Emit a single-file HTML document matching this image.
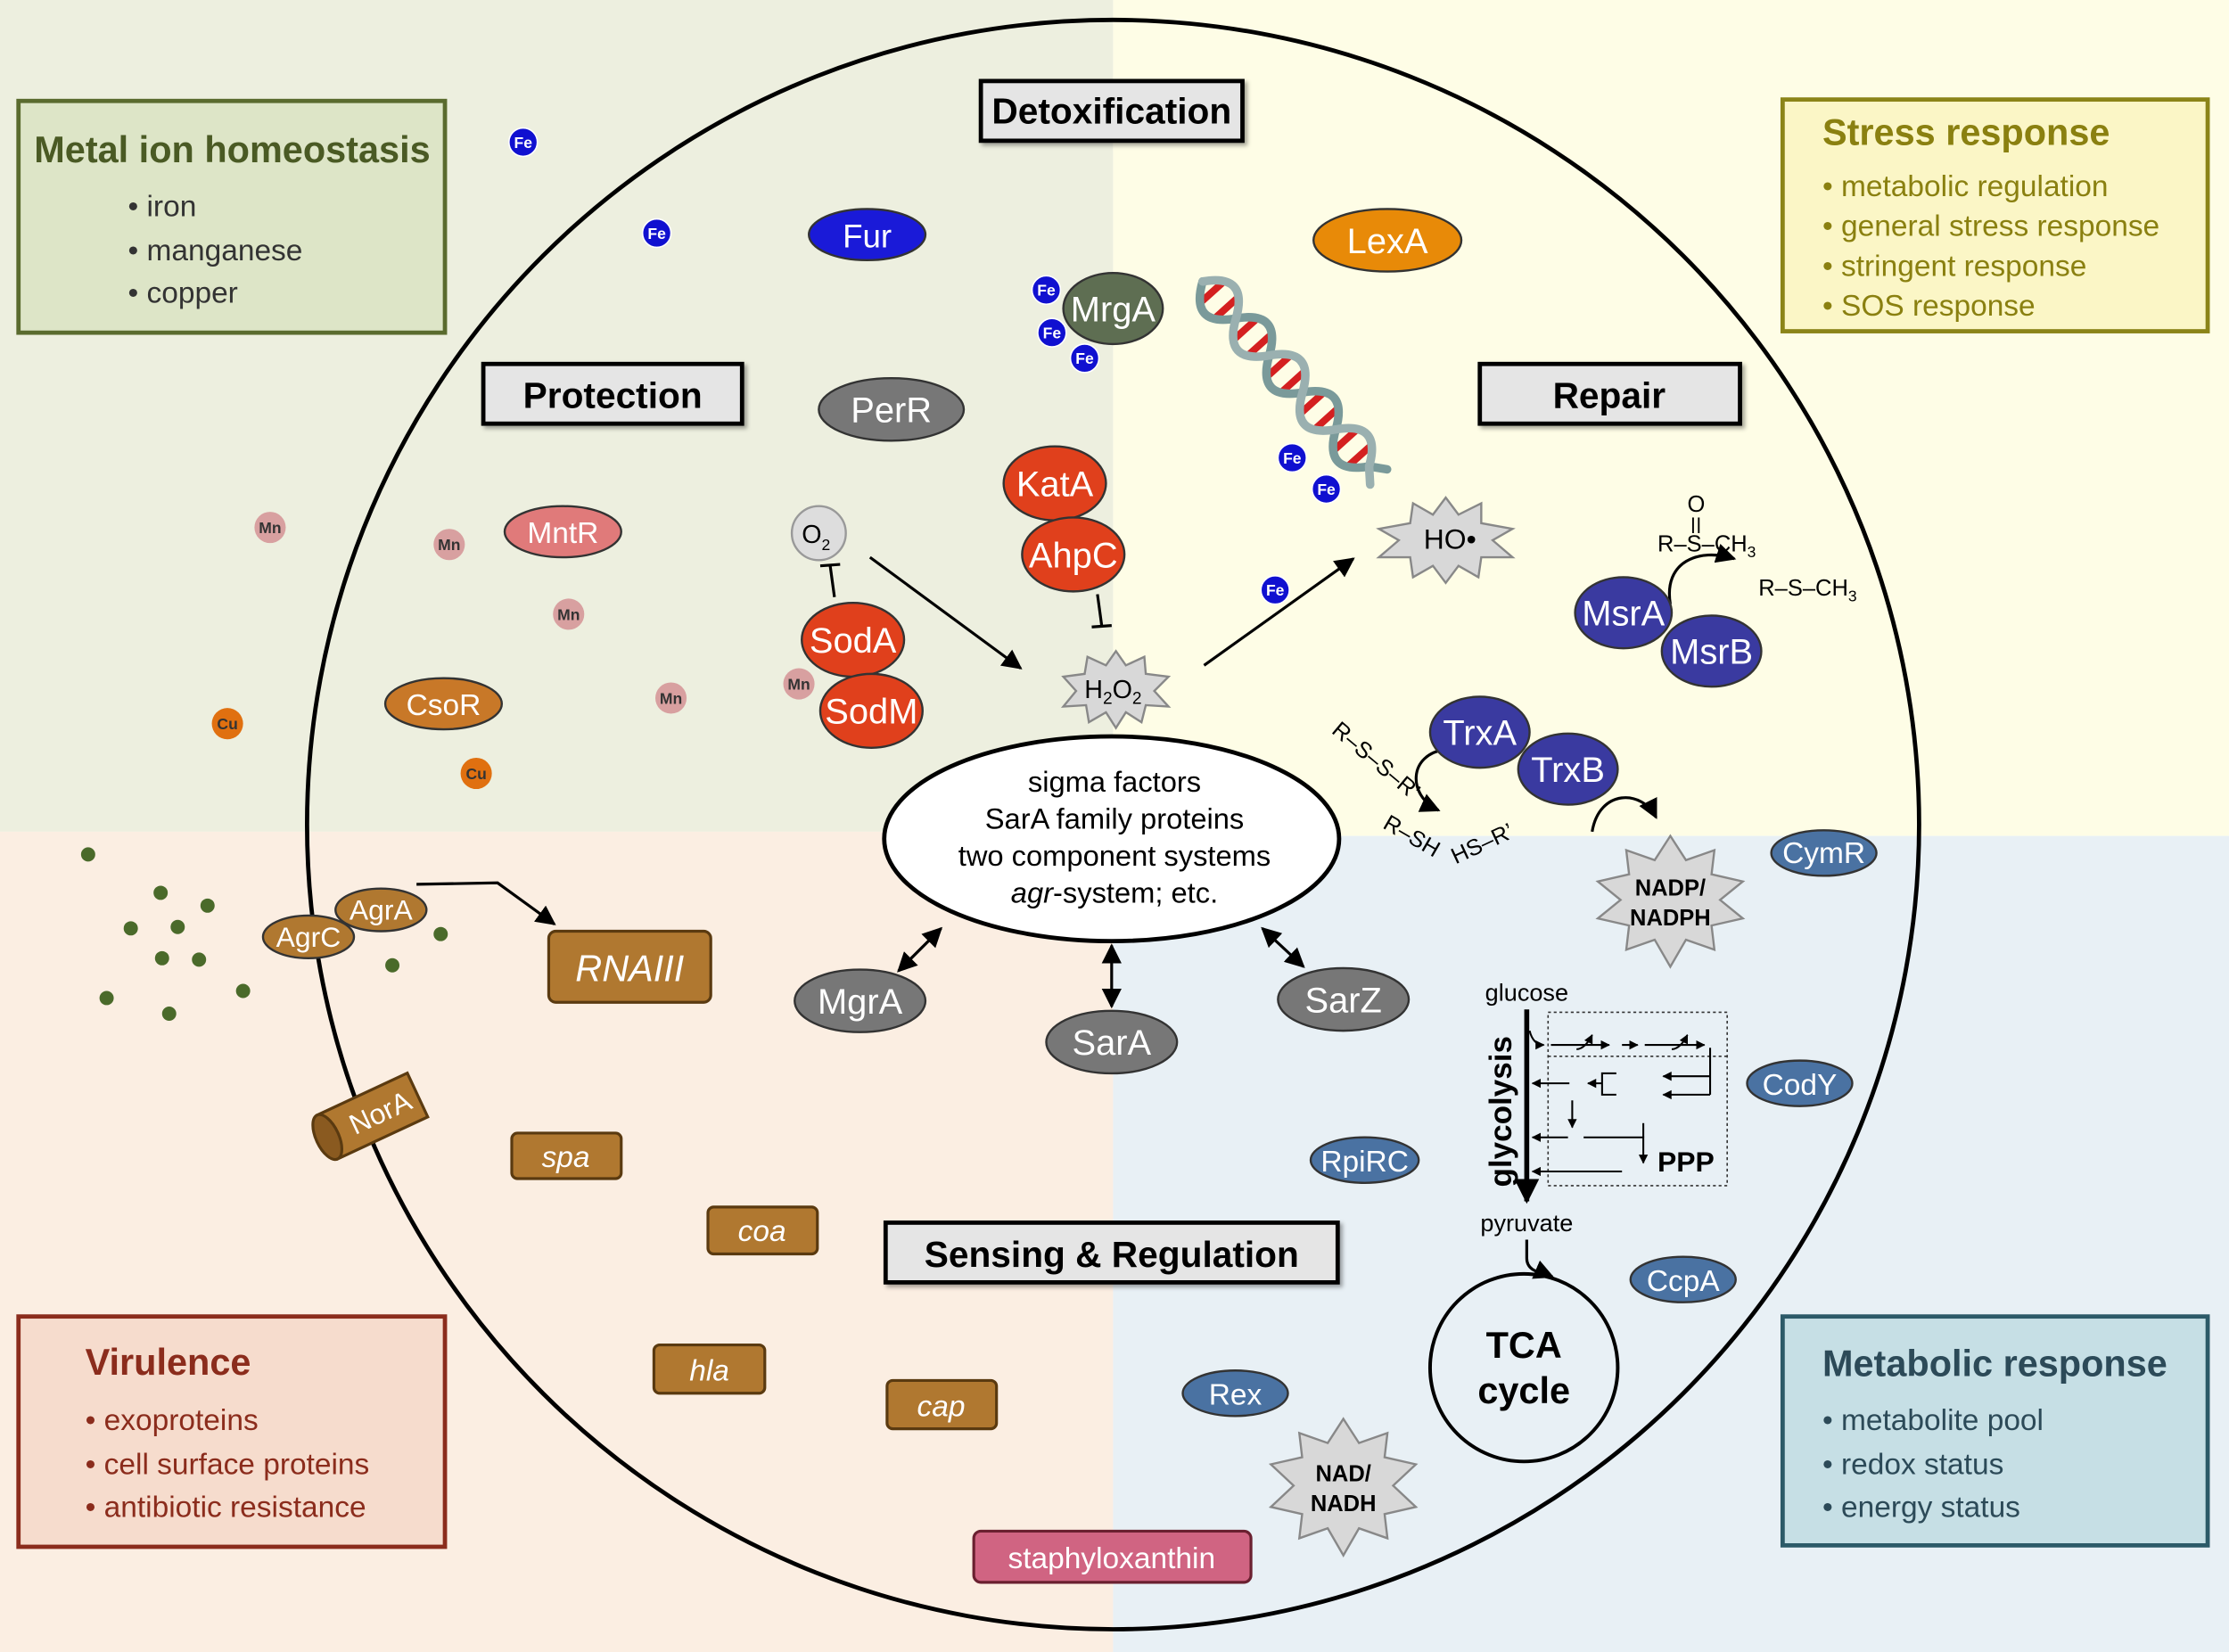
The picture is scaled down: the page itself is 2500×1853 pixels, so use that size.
<!DOCTYPE html>
<html><head><meta charset="utf-8"><style>html,body{margin:0;padding:0;background:#fff}svg{display:block}text{font-family:"Liberation Sans",sans-serif}</style></head><body>
<svg width="2500" height="1853" viewBox="0 0 1568 1162" preserveAspectRatio="none" xmlns="http://www.w3.org/2000/svg">
<defs>
<marker id="ar" viewBox="0 0 10 10" refX="9" refY="5" markerWidth="7" markerHeight="7" orient="auto-start-reverse"><path d="M0,0L10,5L0,10z" fill="#000"/></marker>
<marker id="ars" viewBox="0 0 10 10" refX="9" refY="5" markerWidth="5" markerHeight="5" orient="auto-start-reverse"><path d="M0,0L10,5L0,10z" fill="#000"/></marker>
<filter id="sh" x="-10%" y="-10%" width="130%" height="140%"><feDropShadow dx="2" dy="2" stdDeviation="1.5" flood-color="#000" flood-opacity="0.35"/></filter>
</defs>
<rect x="0" y="0" width="783" height="585" fill="#edefdf"/>
<rect x="783" y="0" width="785" height="588" fill="#fefde6"/>
<rect x="0" y="585" width="783" height="577" fill="#fbeee2"/>
<rect x="783" y="588" width="785" height="574" fill="#e8f0f5"/>
<ellipse cx="783" cy="580" rx="567" ry="566" fill="none" stroke="#000" stroke-width="3"/>

<rect x="13" y="71" width="300" height="163" fill="#dde5c7" stroke="#5a6b2e" stroke-width="3"/>
<text x="24" y="114" font-size="26" font-weight="bold" fill="#4a5a24">Metal ion homeostasis</text>
<text font-size="21" fill="#333"><tspan x="90" y="152">• iron</tspan><tspan x="90" y="183">• manganese</tspan><tspan x="90" y="213">• copper</tspan></text>
<rect x="1254" y="70" width="299" height="163" fill="#fbf6c6" stroke="#8b8418" stroke-width="3"/>
<text x="1282" y="102" font-size="26" font-weight="bold" fill="#8a8010">Stress response</text>
<text font-size="21" fill="#8a8010"><tspan x="1282" y="138">• metabolic regulation</tspan><tspan x="1282" y="166">• general stress response</tspan><tspan x="1282" y="194">• stringent response</tspan><tspan x="1282" y="222">• SOS response</tspan></text>
<rect x="13" y="926" width="300" height="162" fill="#f6dccd" stroke="#8b2c1c" stroke-width="3"/>
<text x="60" y="967" font-size="26" font-weight="bold" fill="#8b2c1c">Virulence</text>
<text font-size="21" fill="#8b2c1c"><tspan x="60" y="1006">• exoproteins</tspan><tspan x="60" y="1037">• cell surface proteins</tspan><tspan x="60" y="1067">• antibiotic resistance</tspan></text>
<rect x="1254" y="926" width="299" height="161" fill="#c6dfe5" stroke="#2c5a68" stroke-width="3"/>
<text x="1282" y="968" font-size="26" font-weight="bold" fill="#2c4a58">Metabolic response</text>
<text font-size="21" fill="#2c4a58"><tspan x="1282" y="1006">• metabolite pool</tspan><tspan x="1282" y="1037">• redox status</tspan><tspan x="1282" y="1067">• energy status</tspan></text>

<g filter="url(#sh)" fill="#e5e5e5" stroke="#000" stroke-width="3">
<rect x="690" y="57" width="184" height="42"/><rect x="340" y="256" width="182" height="42"/><rect x="1041" y="256" width="183" height="42"/><rect x="623" y="860" width="318" height="42"/></g>
<g font-size="25.5" font-weight="bold" text-anchor="middle">
<text x="782" y="87">Detoxification</text><text x="431" y="287">Protection</text><text x="1132" y="287">Repair</text><text x="782" y="891">Sensing &amp; Regulation</text></g>

<ellipse cx="782" cy="590" rx="160" ry="72" fill="#fff" stroke="#000" stroke-width="3"/>
<g font-size="20.5" text-anchor="middle"><text x="784" y="557">sigma factors</text><text x="784" y="583">SarA family proteins</text><text x="784" y="609">two component systems</text><text x="784" y="635"><tspan font-style="italic">agr</tspan>-system; etc.</text></g>

<!-- DNA -->
<g transform="translate(846,198) rotate(48)" fill="none" stroke-linecap="round">
<g stroke="#d42020" stroke-width="5">
<line x1="10" y1="-11" x2="10" y2="11"/><line x1="25" y1="-11" x2="25" y2="11"/>
<line x1="45" y1="-11" x2="45" y2="11"/><line x1="60" y1="-11" x2="60" y2="11"/>
<line x1="80" y1="-11" x2="80" y2="11"/><line x1="95" y1="-11" x2="95" y2="11"/>
<line x1="115" y1="-11" x2="115" y2="11"/><line x1="130" y1="-11" x2="130" y2="11"/>
<line x1="150" y1="-11" x2="150" y2="11"/><line x1="165" y1="-11" x2="165" y2="11"/></g>
<path d="M0,0 Q17.5,28 35,0 Q52.5,-28 70,0 Q87.5,28 105,0 Q122.5,-28 140,0 Q157.5,28 175,0 L185,-8" stroke="#7a9a9a" stroke-width="6"/>
<path d="M0,0 Q17.5,-28 35,0 Q52.5,28 70,0 Q87.5,-28 105,0 Q122.5,28 140,0 Q157.5,-28 175,0 L185,8" stroke="#9ab0b0" stroke-width="6"/>
</g>

<g stroke="#000" stroke-width="2" fill="none">
<line x1="612" y1="392" x2="718" y2="470" marker-end="url(#ar)"/>
<line x1="847" y1="468" x2="952" y2="393" marker-end="url(#ar)"/>
<line x1="587" y1="420" x2="584" y2="398"/><line x1="577" y1="398" x2="591" y2="397"/>
<line x1="772" y1="418" x2="775" y2="440"/><line x1="768" y1="441" x2="782" y2="440"/>
<polyline points="293,622 350,621 390,650" marker-end="url(#ar)"/>
<line x1="632" y1="683" x2="662" y2="653" marker-start="url(#ar)" marker-end="url(#ar)"/>
<line x1="782" y1="708" x2="782" y2="665" marker-start="url(#ar)" marker-end="url(#ar)"/>
<line x1="917" y1="680" x2="888" y2="653" marker-start="url(#ar)" marker-end="url(#ar)"/>
<path d="M1175,425 C1170,395 1195,385 1220,393" marker-end="url(#ar)"/>
<path d="M1018,527 C990,530 990,560 1012,570" marker-end="url(#ar)"/>
<path d="M1120,585 C1125,555 1155,555 1165,575" marker-end="url(#ar)"/>
</g>

<g stroke="#888" stroke-width="1.5" fill="#d8d8d8">
<polygon points="785,458 792,468 805,462 806,474 822,476 812,486 822,497 806,496 803,508 792,501 785,512 778,501 766,508 764,496 748,497 757,486 748,476 763,474 765,462 778,468"/>
<polygon points="1017,350 1026,362 1042,354 1042,368 1064,372 1050,380 1064,392 1042,392 1040,406 1026,398 1017,410 1008,398 994,406 992,392 970,392 984,380 970,372 992,368 994,354 1008,362"/>
<polygon points="1175,588 1186,605 1206,598 1204,615 1226,620 1210,633 1226,646 1204,651 1206,668 1186,661 1175,680 1164,661 1144,668 1146,651 1124,646 1140,633 1124,620 1146,615 1144,598 1164,605"/>
<polygon points="945,998 956,1015 976,1008 974,1025 996,1030 980,1045 996,1060 974,1065 976,1082 956,1075 945,1094 934,1075 914,1082 916,1065 894,1060 910,1045 894,1030 916,1025 914,1008 934,1015"/>
</g>
<text x="783" y="491" font-size="18" text-anchor="middle">H<tspan font-size="12" dy="4">2</tspan><tspan dy="-4">O</tspan><tspan font-size="12" dy="4">2</tspan></text>
<text x="1020" y="386" font-size="20" text-anchor="middle">HO•</text>
<g font-size="16" font-weight="bold" text-anchor="middle"><text x="1175" y="630">NADP/</text><text x="1175" y="651">NADPH</text><text x="945" y="1042">NAD/</text><text x="945" y="1063">NADH</text></g>

<circle cx="576" cy="375" r="19" fill="#ddd" stroke="#999" stroke-width="1.5"/>
<text x="564" y="382" font-size="18">O<tspan font-size="11" dy="5">2</tspan></text>

<g font-size="16"><text x="1187" y="360">O</text><text x="1166" y="388">R–S–CH<tspan font-size="11" dy="4">3</tspan></text><text x="1237" y="419">R–S–CH<tspan font-size="11" dy="4">3</tspan></text>
<text x="0" y="0" transform="translate(936,515) rotate(40)">R–S–S–R’</text>
<text x="0" y="0" transform="translate(972,582) rotate(30)">R–SH</text>
<text x="0" y="0" transform="translate(1024,608) rotate(-25)">HS–R’</text></g>
<line x1="1191" y1="364" x2="1191" y2="375" stroke="#000" stroke-width="1.2"/><line x1="1195" y1="364" x2="1195" y2="375" stroke="#000" stroke-width="1.2"/>

<g stroke="#333" stroke-width="1.5">
<ellipse cx="610" cy="165" rx="41" ry="18" fill="#1a1ad8"/>
<ellipse cx="976" cy="169" rx="52" ry="22" fill="#e88a08"/>
<ellipse cx="783" cy="217" rx="35" ry="25" fill="#5e6e52"/>
<ellipse cx="627" cy="288" rx="51" ry="22" fill="#777"/>
<ellipse cx="742" cy="340" rx="36" ry="26" fill="#e0401c"/>
<ellipse cx="755" cy="390" rx="36" ry="26" fill="#e0401c"/>
<ellipse cx="396" cy="374" rx="41" ry="18" fill="#e07a7a"/>
<ellipse cx="600" cy="450" rx="36" ry="26" fill="#e0401c"/>
<ellipse cx="613" cy="500" rx="36" ry="26" fill="#e0401c"/>
<ellipse cx="312" cy="495" rx="41" ry="18" fill="#c87828"/>
<ellipse cx="1142" cy="431" rx="34" ry="25" fill="#3a3aa0"/>
<ellipse cx="1204" cy="458" rx="35" ry="25" fill="#3a3aa0"/>
<ellipse cx="1041" cy="515" rx="35" ry="25" fill="#3a3aa0"/>
<ellipse cx="1103" cy="541" rx="35" ry="25" fill="#3a3aa0"/>
<ellipse cx="1283" cy="600" rx="37" ry="16" fill="#4a72a2"/>
<ellipse cx="1266" cy="762" rx="37" ry="16" fill="#4a72a2"/>
<ellipse cx="960" cy="816" rx="38" ry="16" fill="#4a72a2"/>
<ellipse cx="1184" cy="900" rx="37" ry="16" fill="#4a72a2"/>
<ellipse cx="869" cy="980" rx="37" ry="16" fill="#4a72a2"/>
<ellipse cx="605" cy="704" rx="46" ry="22" fill="#777"/>
<ellipse cx="782" cy="733" rx="46" ry="22" fill="#777"/>
<ellipse cx="945" cy="703" rx="46" ry="22" fill="#777"/>
<ellipse cx="268" cy="640" rx="32" ry="15" fill="#b07830"/>
<ellipse cx="217" cy="659" rx="32" ry="15" fill="#b07830"/>
</g>
<g fill="#fff" text-anchor="middle" font-size="25">
<text x="610" y="174" font-size="23">Fur</text><text x="976" y="178">LexA</text><text x="783" y="226">MrgA</text><text x="627" y="297">PerR</text>
<text x="742" y="349">KatA</text><text x="755" y="399">AhpC</text><text x="396" y="382" font-size="21">MntR</text><text x="600" y="459">SodA</text><text x="613" y="509">SodM</text>
<text x="312" y="503" font-size="21">CsoR</text><text x="1142" y="440">MsrA</text><text x="1204" y="467">MsrB</text><text x="1041" y="524">TrxA</text><text x="1103" y="550">TrxB</text>
<text x="1283" y="607" font-size="21">CymR</text><text x="1266" y="770" font-size="21">CodY</text><text x="960" y="824" font-size="21">RpiRC</text><text x="1184" y="908" font-size="21">CcpA</text><text x="869" y="988" font-size="21">Rex</text>
<text x="605" y="713">MgrA</text><text x="782" y="742">SarA</text><text x="945" y="712">SarZ</text>
<text x="268" y="647" font-size="20">AgrA</text><text x="217" y="666" font-size="20">AgrC</text></g>

<g stroke="#5a3a10" stroke-width="2" fill="#b07830">
<rect x="386" y="655" width="114" height="50" rx="5"/><rect x="360" y="797" width="77" height="32" rx="4"/><rect x="498" y="849" width="77" height="33" rx="4"/><rect x="460" y="946" width="78" height="34" rx="4"/><rect x="624" y="971" width="77" height="34" rx="4"/></g>
<rect x="685" y="1077" width="195" height="36" rx="5" fill="#d06482" stroke="#6a2030" stroke-width="2"/>
<g fill="#fff" font-style="italic" text-anchor="middle"><text x="443" y="690" font-size="26">RNAIII</text><text x="398" y="821" font-size="21">spa</text><text x="536" y="873" font-size="21">coa</text><text x="499" y="971" font-size="21">hla</text><text x="662" y="996" font-size="21">cap</text></g>
<text x="782" y="1103" font-size="21" fill="#fff" text-anchor="middle">staphyloxanthin</text>

<g transform="translate(262,785) rotate(-25)">
<rect x="-35" y="-17" width="70" height="34" fill="#b07830" stroke="#5a3a10" stroke-width="2"/>
<ellipse cx="-35" cy="0" rx="8" ry="17" fill="#8a5a20" stroke="#5a3a10" stroke-width="2"/>
<text x="6" y="7" font-size="20" fill="#fff" text-anchor="middle">NorA</text></g>

<g fill="#1010d0" stroke="#fff" stroke-width="1">
<circle cx="368" cy="100" r="10"/><circle cx="462" cy="164" r="10"/><circle cx="736" cy="204" r="10"/><circle cx="740" cy="234" r="10"/><circle cx="763" cy="252" r="10"/><circle cx="909" cy="322" r="10"/><circle cx="933" cy="344" r="10"/><circle cx="897" cy="415" r="10"/></g>
<g fill="#fff" font-size="11" font-weight="bold" text-anchor="middle">
<text x="368" y="104">Fe</text><text x="462" y="168">Fe</text><text x="736" y="208">Fe</text><text x="740" y="238">Fe</text><text x="763" y="256">Fe</text><text x="909" y="326">Fe</text><text x="933" y="348">Fe</text><text x="897" y="419">Fe</text></g>
<g fill="#d8a0a0"><circle cx="190" cy="371" r="11"/><circle cx="316" cy="383" r="11"/><circle cx="400" cy="432" r="11"/><circle cx="472" cy="491" r="11"/><circle cx="562" cy="481" r="11"/></g>
<g fill="#e07010"><circle cx="160" cy="509" r="11"/><circle cx="335" cy="544" r="11"/></g>
<g font-size="11" font-weight="bold" text-anchor="middle" fill="#333">
<text x="190" y="375">Mn</text><text x="316" y="387">Mn</text><text x="400" y="436">Mn</text><text x="472" y="495">Mn</text><text x="562" y="485">Mn</text><text x="160" y="513">Cu</text><text x="335" y="548">Cu</text></g>
<g fill="#4a6a2a"><circle cx="62" cy="601" r="5"/><circle cx="113" cy="628" r="5"/><circle cx="146" cy="637" r="5"/><circle cx="92" cy="653" r="5"/><circle cx="125" cy="652" r="5"/><circle cx="310" cy="657" r="5"/><circle cx="114" cy="674" r="5"/><circle cx="140" cy="675" r="5"/><circle cx="276" cy="679" r="5"/><circle cx="75" cy="702" r="5"/><circle cx="171" cy="697" r="5"/><circle cx="119" cy="713" r="5"/></g>

<text x="1074" y="704" font-size="17" text-anchor="middle">glucose</text>
<text x="1074" y="866" font-size="17" text-anchor="middle">pyruvate</text>
<text x="0" y="0" transform="translate(1063,835) rotate(-90)" font-size="22" font-weight="bold">glycolysis</text>
<line x1="1074" y1="710" x2="1074" y2="845" stroke="#000" stroke-width="3.5" marker-end="url(#ars)"/>
<rect x="1089" y="712" width="126" height="122" fill="none" stroke="#333" stroke-width="1" stroke-dasharray="2,2"/>
<line x1="1089" y1="743" x2="1215" y2="743" stroke="#333" stroke-width="1" stroke-dasharray="2,2"/>
<g stroke="#000" stroke-width="1.3" fill="none">
<path d="M1076,725 C1078,733 1082,735 1086,735" marker-end="url(#ars)"/>
<line x1="1091" y1="735" x2="1132" y2="735" marker-end="url(#ars)"/>
<line x1="1141" y1="735" x2="1152" y2="735" marker-end="url(#ars)"/>
<line x1="1157" y1="735" x2="1199" y2="735" marker-end="url(#ars)"/>
<line x1="1203" y1="737" x2="1203" y2="770"/>
<line x1="1203" y1="757" x2="1170" y2="757" marker-end="url(#ars)"/>
<line x1="1203" y1="770" x2="1170" y2="770" marker-end="url(#ars)"/>
<polyline points="1137,755 1127,755 1127,770 1137,770"/>
<line x1="1127" y1="762" x2="1117" y2="762" marker-end="url(#ars)"/>
<line x1="1104" y1="762" x2="1078" y2="762" marker-end="url(#ars)"/>
<line x1="1106" y1="774" x2="1106" y2="793" marker-end="url(#ars)"/>
<line x1="1103" y1="800" x2="1078" y2="800" marker-end="url(#ars)"/>
<polyline points="1114,800 1156,800 1156,818" marker-end="url(#ars)"/>
<line x1="1156" y1="790" x2="1156" y2="800"/>
<line x1="1141" y1="824" x2="1078" y2="824" marker-end="url(#ars)"/>
<path d="M1109,738 C1113,738 1117,734 1120,728" marker-end="url(#ars)"/>
<path d="M1176,738 C1180,738 1184,734 1187,728" marker-end="url(#ars)"/>
</g>
<text x="1166" y="824" font-size="20" font-weight="bold">PPP</text>
<path d="M1074,872 L1074,885 C1074,895 1085,895 1092,898" stroke="#000" stroke-width="2" fill="none" marker-end="url(#ar)"/>
<circle cx="1072" cy="962" r="66" fill="none" stroke="#000" stroke-width="2.5"/>
<text x="1072" y="955" font-size="26" font-weight="bold" text-anchor="middle">TCA</text>
<text x="1072" y="987" font-size="26" font-weight="bold" text-anchor="middle">cycle</text>
</svg>
</body></html>
